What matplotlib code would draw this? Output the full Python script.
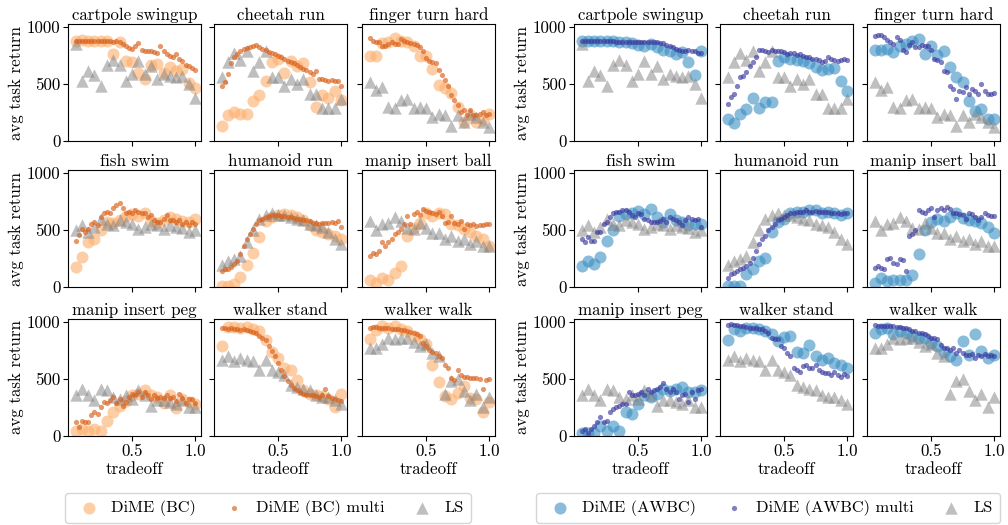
import numpy as np
import matplotlib
matplotlib.use("Agg")
import matplotlib.pyplot as plt

plt.rcParams['font.family'] = ['cmr10', 'DejaVu Serif']
plt.rcParams['mathtext.fontset'] = 'cm'
plt.rcParams['axes.formatter.use_mathtext'] = True
plt.rcParams['axes.unicode_minus'] = False

tasks = ["cartpole swingup", "cheetah run", "finger turn hard",
         "fish swim", "humanoid run", "manip insert ball",
         "manip insert peg", "walker stand", "walker walk"]

tradeoff = np.arange(1, 21) * 0.05

# LS baseline (shared by both groups)
ls_cartpole = [850, 530, 610, 580, 480, 670, 710, 670, 530, 590, 700, 590, 660, 540, 590, 570, 560, 570, 500, 380]
ls_cheetah = [560, 690, 775, 710, 790, 615, 690, 785, 565, 565, 480, 540, 500, 540, 415, 410, 285, 285, 285, 370]
ls_finger = [515, 450, 475, 300, 285, 355, 365, 285, 300, 285, 210, 240, 225, 135, 225, 165, 240, 210, 170, 120]
ls_fish = [495, 545, 480, 525, 600, 555, 545, 585, 570, 555, 510, 525, 555, 540, 510, 540, 525, 515, 485, 495]
ls_humanoid = [190, 228, 243, 273, 392, 495, 600, 629, 644, 629, 629, 614, 599, 584, 555, 540, 525, 480, 421, 377]
ls_ball = [579, 500, 550, 564, 609, 579, 520, 506, 564, 520, 476, 476, 418, 447, 403, 418, 373, 403, 359, 359]
ls_peg = [356, 415, 356, 312, 415, 400, 341, 326, 356, 326, 400, 356, 267, 312, 312, 297, 282, 312, 252, 252]
ls_wstand = [668, 697, 653, 683, 668, 653, 579, 668, 579, 564, 534, 445, 430, 415, 400, 356, 341, 341, 312, 282]
ls_wwalk = [775, 770, 810, 855, 850, 860, 855, 820, 790, 810, 725, 700, 370, 480, 500, 390, 315, 370, 255, 345]

# DiME (BC)
bc_cartpole = [880, 885, 875, 880, 880, 875, 765, 865, 700, 690, 600, 545, 665, 675, 600, 645, 615, 630, 505, 460]
bc_cheetah = [135, 225, 255, 240, 240, 350, 400, 530, 690, 720, 600, 700, 660, 680, 520, 300, 400, 380, 440, 360]
bc_finger = [745, 745, 860, 870, 900, 880, 870, 835, 745, 745, 630, 490, 465, 420, 300, 170, 225, 165, 180, 240]
bc_fish = [175, 260, 390, 420, 500, 570, 560, 590, 620, 640, 620, 650, 580, 560, 590, 610, 600, 580, 570, 600]
bc_humanoid = [10, 10, 30, 90, 195, 300, 440, 580, 615, 635, 640, 630, 615, 590, 545, 500, 480, 465, 450, 420]
bc_ball = [65, 35, 80, 65, 120, 180, 450, 520, 560, 650, 620, 650, 640, 550, 540, 510, 480, 450, 420, 360]
bc_peg = [45, 60, 45, 60, 45, 135, 210, 265, 310, 355, 370, 400, 355, 340, 285, 355, 245, 325, 295, 280]
bc_wstand = [785, 955, 955, 950, 955, 935, 920, 845, 740, 685, 595, 580, 490, 400, 370, 355, 350, 325, 255, 370]
bc_wwalk = [850, 930, 960, 950, 960, 940, 920, 880, 850, 810, 620, 470, 350, 320, 380, 440, 330, 320, 210, 300]

# DiME (BC) multi
bcm_cartpole = [878, 875, 878, 876, 875, 876, 875, 874, 875, 873, 875, 872, 870, 872, 868, 850, 830, 815, 810, 835,
                860, 800, 790, 790, 785, 780, 770, 835, 790, 765, 745, 735, 760, 715, 700, 670, 660, 640, 620]
bcm_cheetah = [485, 515, 590, 680, 735, 765, 790, 805, 815, 820, 830, 840, 820, 810, 795, 780, 770, 760, 745, 735,
               720, 705, 690, 680, 665, 650, 635, 620, 605, 585, 615, 545, 540, 535, 530, 535, 530, 525, 485]
bcm_finger = [900, 880, 865, 870, 835, 835, 850, 865, 850, 850, 895, 880, 865, 860, 850, 845, 820, 790, 730, 700,
              690, 685, 625, 580, 535, 480, 405, 360, 315, 255, 270, 225, 270, 225, 230, 240, 255, 225, 235]
bcm_fish = [405, 455, 505, 480, 505, 555, 570, 540, 615, 645, 660, 645, 690, 720, 735, 690, 645, 660, 645, 675,
            660, 645, 645, 615, 630, 585, 570, 570, 600, 630, 585, 585, 570, 585, 555, 570, 540, 570, 555]
bcm_humanoid = [140, 155, 160, 178, 200, 228, 288, 360, 420, 465, 510, 555, 585, 600, 615, 625, 635, 635, 630, 625,
                620, 615, 610, 605, 600, 595, 590, 585, 575, 565, 560, 555, 560, 565, 560, 570, 560, 575, 525]
bcm_ball = [275, 295, 285, 315, 390, 360, 390, 420, 460, 480, 505, 550, 625, 550, 640, 655, 630, 680, 665, 655,
            650, 640, 655, 625, 565, 570, 625, 565, 550, 580, 505, 550, 545, 550, 535, 540, 545, 550, 555]
bcm_peg = [120, 75, 135, 120, 125, 180, 210, 195, 255, 300, 285, 315, 340, 285, 325, 265, 300, 340, 370, 355,
           385, 340, 385, 355, 325, 355, 330, 340, 330, 355, 330, 340, 310, 370, 330, 285, 325, 320, 290]
bcm_wstand = [950, 945, 940, 945, 935, 940, 930, 935, 925, 920, 915, 900, 880, 860, 840, 790, 745, 700, 640, 580,
              530, 480, 445, 420, 400, 385, 370, 360, 355, 360, 350, 345, 360, 415, 350, 330, 320, 315, 310]
bcm_wwalk = [950, 955, 955, 950, 950, 945, 945, 940, 935, 935, 930, 925, 920, 910, 900, 890, 875, 816, 785, 757,
             740, 727, 697, 683, 623, 594, 504, 490, 579, 534, 519, 515, 505, 510, 505, 500, 415, 490, 495]

# DiME (AWBC)
aw_cartpole = [880, 880, 880, 878, 875, 875, 870, 865, 860, 840, 830, 850, 820, 800, 790, 760, 780, 690, 580, 790]
aw_cheetah = [190, 155, 235, 280, 380, 290, 340, 345, 700, 740, 720, 710, 700, 680, 650, 620, 635, 640, 530, 440]
aw_finger = [800, 800, 810, 780, 830, 850, 880, 895, 760, 830, 750, 790, 650, 560, 520, 350, 265, 280, 190, 190]
aw_fish = [180, 230, 200, 260, 400, 495, 620, 640, 645, 670, 640, 685, 610, 570, 640, 590, 570, 545, 555, 555]
aw_humanoid = [6, 12, 12, 110, 154, 228, 258, 480, 570, 600, 644, 659, 659, 673, 673, 644, 659, 650, 629, 644]
aw_ball = [35, 80, 50, 65, 60, 60, 105, 290, 500, 570, 600, 575, 615, 645, 605, 590, 580, 560, 525, 475]
aw_peg = [30, 30, 30, 90, 45, 90, 45, 210, 195, 280, 360, 340, 370, 415, 390, 410, 430, 385, 385, 400]
aw_wstand = [845, 940, 920, 950, 945, 935, 920, 890, 830, 870, 875, 740, 725, 800, 700, 665, 685, 640, 620, 595]
aw_wwalk = [905, 935, 950, 890, 920, 900, 875, 860, 860, 815, 785, 740, 700, 665, 830, 710, 890, 745, 685, 710]

# DiME (AWBC) multi
awm_cartpole = [878, 876, 877, 876, 875, 875, 874, 875, 873, 872, 873, 871, 870, 869, 868, 867, 866, 865, 866, 868,
                866, 865, 864, 866, 865, 860, 855, 845, 835, 825, 810, 795, 790, 790, 795, 785, 790, 775, 770]
awm_cheetah = [323, 382, 411, 485, 558, 573, 603, 661, 691, 735, 794, 795, 788, 779, 794, 790, 785, 792, 780, 765,
               768, 770, 750, 760, 748, 735, 738, 720, 722, 706, 691, 700, 735, 720, 712, 700, 706, 715, 710]
awm_finger = [918, 926, 926, 912, 882, 868, 853, 912, 882, 794, 779, 838, 868, 823, 823, 838, 830, 835, 794, 720,
              706, 691, 617, 603, 485, 456, 368, 441, 426, 470, 411, 456, 441, 411, 500, 441, 411, 415, 420]
awm_fish = [421, 392, 436, 406, 406, 480, 486, 555, 570, 614, 644, 659, 659, 673, 673, 659, 629, 614, 644, 640,
            599, 584, 570, 570, 570, 580, 599, 570, 614, 599, 584, 570, 540, 584, 614, 600, 590, 600, 525]
awm_humanoid = [80, 110, 125, 139, 154, 169, 184, 213, 258, 317, 377, 421, 451, 495, 525, 555, 584, 599, 614, 629,
                644, 644, 659, 659, 659, 673, 660, 660, 662, 660, 658, 660, 655, 650, 648, 645, 642, 645, 650]
awm_ball = [169, 184, 170, 154, 243, 258, 213, 199, 245, 240, 139, 451, 466, 495, 673, 659, 644, 673, 688, 614,
            673, 688, 673, 703, 680, 644, 650, 640, 629, 599, 644, 640, 614, 584, 614, 644, 629, 625, 620]
awm_peg = [45, 59, 30, 59, 89, 119, 163, 119, 134, 208, 237, 252, 267, 282, 282, 386, 356, 356, 371, 386,
           356, 415, 386, 400, 415, 430, 460, 415, 386, 415, 386, 326, 356, 371, 297, 386, 326, 400, 410]
awm_wstand = [973, 979, 975, 975, 964, 964, 955, 950, 950, 944, 935, 935, 920, 905, 860, 846, 846, 786, 772, 727,
              697, 594, 579, 564, 609, 623, 594, 594, 623, 579, 564, 549, 549, 534, 564, 534, 519, 540, 530]
awm_wwalk = [973, 964, 964, 964, 964, 964, 964, 955, 955, 950, 950, 935, 920, 920, 905, 905, 890, 875, 860, 860,
             846, 801, 772, 772, 757, 772, 727, 757, 727, 712, 712, 720, 683, 712, 697, 720, 700, 710, 705]

ls_all = [ls_cartpole, ls_cheetah, ls_finger, ls_fish, ls_humanoid, ls_ball, ls_peg, ls_wstand, ls_wwalk]
bc_all = [bc_cartpole, bc_cheetah, bc_finger, bc_fish, bc_humanoid, bc_ball, bc_peg, bc_wstand, bc_wwalk]
bcm_all = [bcm_cartpole, bcm_cheetah, bcm_finger, bcm_fish, bcm_humanoid, bcm_ball, bcm_peg, bcm_wstand, bcm_wwalk]
aw_all = [aw_cartpole, aw_cheetah, aw_finger, aw_fish, aw_humanoid, aw_ball, aw_peg, aw_wstand, aw_wwalk]
awm_all = [awm_cartpole, awm_cheetah, awm_finger, awm_fish, awm_humanoid, awm_ball, awm_peg, awm_wstand, awm_wwalk]

W, H = 1008, 525
fig = plt.figure(figsize=(W / 100, H / 100), dpi=100)

col_left = [[68, 214, 362], [574, 720, 867]]
ax_w = 133
row_top = [24, 170, 319]
ax_h = 117
legend_cx = [268, 768]

groups = [
    (bc_all, bcm_all, "DiME (BC)", "DiME (BC) multi", "#fdae6b", "#d9601a"),
    (aw_all, awm_all, "DiME (AWBC)", "DiME (AWBC) multi", "#3a8fc4", "#3a3aa0"),
]

fs = 12.2
for g, (single, multi, lab1, lab2, c1, c2) in enumerate(groups):
    for i, task in enumerate(tasks):
        r, c = divmod(i, 3)
        x0 = col_left[g][c]
        ax = fig.add_axes([x0 / W, 1 - (row_top[r] + ax_h) / H, ax_w / W, ax_h / H])
        xm = np.linspace(0.05, 1.0, len(multi[i]))
        h1 = ax.scatter(tradeoff, single[i], s=75, color=c1, alpha=0.6, linewidths=0, label=lab1, zorder=2)
        h2 = ax.scatter(xm, multi[i], s=14, color=c2, alpha=0.65, linewidths=0, label=lab2, zorder=3)
        h3 = ax.scatter(tradeoff, ls_all[i], s=80, marker='^', color='gray', alpha=0.5, linewidths=0,
                        label="LS", zorder=2)
        ax.set_xlim(-0.01, 1.048)
        ax.set_ylim(0, 1025)
        ax.set_xticks([0.5, 1.0])
        ax.set_yticks([0, 500, 1000])
        ax.set_title(task, fontsize=fs, pad=3)
        ax.tick_params(labelsize=fs, length=3.5, width=0.8, pad=2)
        if c == 0:
            ax.set_yticklabels(["0", "500", "1000"])
            ax.set_ylabel("avg task return", fontsize=fs, labelpad=2)
        else:
            ax.set_yticklabels([])
        if r == 2:
            ax.set_xticklabels(["0.5", "1.0"])
            ax.set_xlabel("tradeoff", fontsize=fs, labelpad=2)
        else:
            ax.set_xticklabels([])
        for sp in ax.spines.values():
            sp.set_linewidth(0.8)

    fig.legend(handles=[h1, h2, h3], loc='center', bbox_to_anchor=(legend_cx[g] / W, 1 - 508 / H), ncol=3,
               fontsize=11.8, frameon=True, handletextpad=0.35, columnspacing=1.3, borderpad=0.45,
               markerscale=1.0)

fig.savefig("out.png", dpi=100)
